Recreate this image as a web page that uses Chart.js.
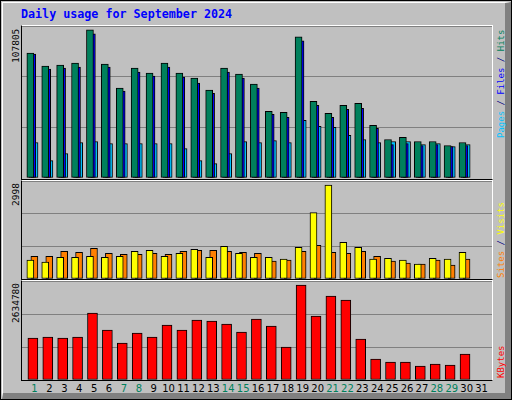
<!DOCTYPE html>
<html><head><meta charset="utf-8">
<script src="https://cdn.jsdelivr.net/npm/chart.js@4"></script>
<style>
body{margin:0;background:#fff}
#frame{position:absolute;left:0;top:0;width:510px;height:398px;border:1px solid #000;background:#c0c0c0;overflow:hidden}
#bevel{position:absolute;left:1px;top:1px;width:502px;height:390px;border-top:1px solid #fff;border-left:1px solid #fff;border-right:6px solid #808080;border-bottom:6px solid #808080}
.panel{position:absolute;left:20px;width:470px;border-left:1px solid #000;border-top:1px solid #fff;border-right:1px solid #fff;border-bottom:1px solid #000}
canvas{position:absolute}
.t{position:absolute;font-family:"DejaVu Sans Mono",monospace;white-space:nowrap;line-height:11px}
.rot{transform:rotate(-90deg);transform-origin:0 0}
#days span{position:absolute;top:382px;font-family:"DejaVu Sans",sans-serif;font-size:10px;transform:translateX(-50%)}
</style></head><body>
<div id="frame"><div id="bevel"></div>
<div class="t" style="left:20px;top:8px;font-size:11.7px;font-weight:bold;color:#0000ff">Daily usage for September 2024</div>
<div class="panel" style="top:24px;height:153px"></div>
<div class="panel" style="top:179px;height:98px"></div>
<div class="panel" style="top:279px;height:99px"></div>
<canvas id="c1" style="left:21px;top:25px"></canvas>
<canvas id="c2" style="left:21px;top:180px"></canvas>
<canvas id="c3" style="left:21px;top:280px"></canvas>
<div class="t rot" style="left:9px;top:62px;font-size:9.5px;color:#000">107805</div>
<div class="t rot" style="left:9px;top:205px;font-size:9.5px;color:#000">2998</div>
<div class="t rot" style="left:9px;top:322px;font-size:9.5px;color:#000">2634780</div>
<div class="t rot" style="left:495px;top:137px;font-size:9px"><span style="color:#00c0ff">Pages</span><span style="color:#000080"> / </span><span style="color:#0000ff">Files</span><span style="color:#000080"> / </span><span style="color:#00805c">Hits</span></div>
<div class="t rot" style="left:495px;top:277px;font-size:9px"><span style="color:#ff8000">Sites</span><span style="color:#000080"> / </span><span style="color:#ffff00">Visits</span></div>
<div class="t rot" style="left:495px;top:377px;font-size:9px;color:#ff0000">KBytes</div>
<div id="days"></div>
</div>
<script>
const days=[1,2,3,4,5,6,7,8,9,10,11,12,13,14,15,16,17,18,19,20,21,22,23,24,25,26,27,28,29,30,31];
const weekend=[1,7,8,14,15,21,22,28,29];
const hits=[88650,79380,80095,81520,105050,80810,63695,77955,74390,81520,74390,70825,62270,77955,73680,66550,47300,46580,100060,54430,45870,51570,53000,37310,27330,28760,25910,25910,23050,25190];
const files=[87940,77240,77955,78670,102200,78670,61560,75100,72250,78670,71540,67260,60130,75100,70825,63695,45160,43020,97210,51570,43020,48720,49435,35175,23770,24480,23050,23770,22340,23050];
const pages=[25190,12360,17350,25190,25910,24480,24480,24480,24480,24480,20915,12360,10220,17350,25910,25190,26620,25190,40880,36600,35890,30180,27330,25190,25910,25910,23770,24480,22340,23770];
const visits=[575,515,666,666,696,666,696,848,878,696,787,908,666,999,787,666,666,606,969,2029,2877,1120,969,606,636,575,454,636,606,818];
const sites=[696,696,848,818,939,787,757,757,787,757,848,878,878,848,818,787,545,575,848,1030,818,787,848,696,545,485,454,575,424,606];
const kbytes=[1117700,1144400,1117700,1144400,1783100,1330650,984700,1250800,1144400,1463700,1330650,1596800,1570200,1490300,1277400,1623400,1437100,878200,2528200,1703200,2235500,2129000,1091100,558900,479000,479000,372600,425800,399200,691900];
const maxTop=107805, maxMid=2998, maxBot=2634780;

const XMIN=0.16, XMAX=31.7;
const dd=document.getElementById('days');
days.forEach(d=>{const s=document.createElement('span');s.textContent=d;
 s.style.left=(21+(d-XMIN)/(XMAX-XMIN)*470)+'px';s.style.color=weekend.includes(d)?'#00805c':'#000';dd.appendChild(s);});

function pts(a){return a.map((v,i)=>({x:days[i],y:v}));}
function make(id,h,max,thick,sets){
 const c=document.getElementById(id);c.width=470;c.height=h;c.style.width='470px';c.style.height=h+'px';
 const scales={y:{min:0,max:max,ticks:{display:false,stepSize:max/3},border:{display:false},grid:{color:'#808080',lineWidth:1,drawTicks:false,tickLength:0}}};
 const datasets=sets.map((s,i)=>{
   const id='x'+i;
   scales[id]={type:'linear',min:XMIN+s.shift,max:XMAX+s.shift,display:false,offset:false};
   return {data:pts(s.data),xAxisID:id,backgroundColor:s.color,borderColor:'#000',borderWidth:1,barThickness:thick,grouped:false,borderSkipped:false};
 });
 new Chart(c,{type:'bar',data:{datasets},options:{responsive:false,animation:false,devicePixelRatio:1,
  layout:{padding:0},plugins:{legend:{display:false},tooltip:{enabled:false}},scales}});
}
make('c1',152,maxTop,7,[{data:hits,color:'#00805c',shift:0.28},{data:files,color:'#0000ff',shift:0.15},{data:pages,color:'#00c0ff',shift:0}]);
make('c2',98,maxMid,7,[{data:visits,color:'#ffff00',shift:0.28},{data:sites,color:'#ff8000',shift:0.01}]);
make('c3',99,maxBot,10,[{data:kbytes,color:'#ff0000',shift:0.11}]);
</script>
</body></html>
